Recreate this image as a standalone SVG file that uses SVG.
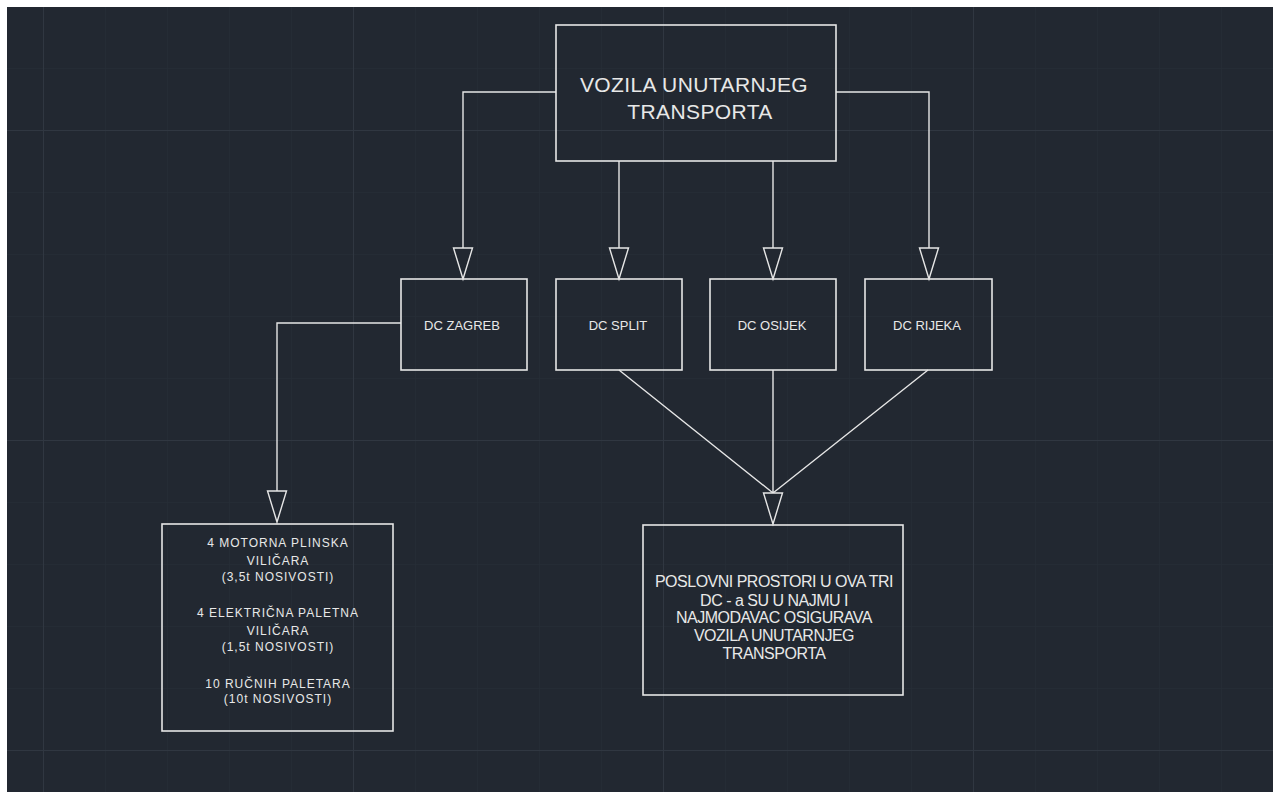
<svg xmlns="http://www.w3.org/2000/svg" width="1277" height="792" viewBox="0 0 1277 792">
<defs>
<pattern id="minor" x="43" y="6" width="62" height="62" patternUnits="userSpaceOnUse">
<path d="M0 0V62M0 0H62" fill="none" stroke="#262d36" stroke-width="1.5"/>
</pattern>
<pattern id="major" x="43" y="130" width="310" height="310" patternUnits="userSpaceOnUse">
<path d="M0 0V310M0 0H310" fill="none" stroke="#303741" stroke-width="2"/>
</pattern>
</defs>
<style>
.box{fill:none;stroke:#e6e6e6;stroke-width:1.6}
.ln{fill:none;stroke:#e6e6e6;stroke-width:1.4}
.ah{fill:#222831;stroke:#e6e6e6;stroke-width:1.4;stroke-linejoin:miter}
text{font-family:"Liberation Sans",Arial,sans-serif;fill:#e8e8e8;text-anchor:middle}
.t1{font-size:21px;letter-spacing:0.4px}
.t2{font-size:13px}
.t3{font-size:12px;letter-spacing:1px}
.t4{font-size:16px;letter-spacing:-0.5px}
</style>
<rect x="0" y="0" width="1277" height="792" fill="#ffffff"/>
<rect x="7" y="7" width="1266" height="785" fill="#222831"/>
<rect x="7" y="7" width="1266" height="785" fill="url(#minor)"/>
<rect x="7" y="7" width="1266" height="785" fill="url(#major)"/>

<g id="connectors">
<path class="ln" d="M556 92H463V248"/>
<polygon class="ah" points="453.5,248 472.5,248 463,279"/>
<path class="ln" d="M619 161V248"/>
<polygon class="ah" points="609.5,248 628.5,248 619,279"/>
<path class="ln" d="M773 161V248"/>
<polygon class="ah" points="763.5,248 782.5,248 773,279"/>
<path class="ln" d="M836 92H929V248"/>
<polygon class="ah" points="919.5,248 938.5,248 929,279"/>
<path class="ln" d="M401 323H277V491"/>
<polygon class="ah" points="267.5,491 286.5,491 277,522"/>
<path class="ln" d="M619 370L773 493M773 370V493M928 370L773 493"/>
<polygon class="ah" points="763.5,493 782.5,493 773,524"/>
</g>

<g id="top">
<rect class="box" x="556" y="25" width="280" height="136"/>
<text class="t1" x="694" y="92">VOZILA UNUTARNJEG</text>
<text class="t1" x="700" y="119">TRANSPORTA</text>
</g>
<g id="zagreb">
<rect class="box" x="401" y="279" width="126" height="91"/>
<text class="t2" x="462" y="330">DC ZAGREB</text>
</g>
<g id="split">
<rect class="box" x="556" y="279" width="126" height="91"/>
<text class="t2" x="618" y="330">DC SPLIT</text>
</g>
<g id="osijek">
<rect class="box" x="710" y="279" width="126" height="91"/>
<text class="t2" x="772" y="330">DC OSIJEK</text>
</g>
<g id="rijeka">
<rect class="box" x="865" y="279" width="127" height="91"/>
<text class="t2" x="927" y="330">DC RIJEKA</text>
</g>
<g id="vozila">
<rect class="box" x="162" y="524" width="231" height="207"/>
<text class="t3" x="278" y="547">4 MOTORNA PLINSKA</text>
<text class="t3" x="278" y="565">VILIČARA</text>
<text class="t3" x="278" y="581">(3,5t NOSIVOSTI)</text>
<text class="t3" x="278" y="617">4 ELEKTRIČNA PALETNA</text>
<text class="t3" x="278" y="635">VILIČARA</text>
<text class="t3" x="278" y="651">(1,5t NOSIVOSTI)</text>
<text class="t3" x="278" y="688">10 RUČNIH PALETARA</text>
<text class="t3" x="278" y="703">(10t NOSIVOSTI)</text>
</g>
<g id="najam">
<rect class="box" x="643" y="525" width="260" height="170"/>
<text class="t4" x="774" y="587">POSLOVNI PROSTORI U OVA TRI</text>
<text class="t4" x="774" y="606">DC - a SU U NAJMU I</text>
<text class="t4" x="774" y="623">NAJMODAVAC OSIGURAVA</text>
<text class="t4" x="774" y="641">VOZILA UNUTARNJEG</text>
<text class="t4" x="774" y="659">TRANSPORTA</text>
</g>
</svg>
